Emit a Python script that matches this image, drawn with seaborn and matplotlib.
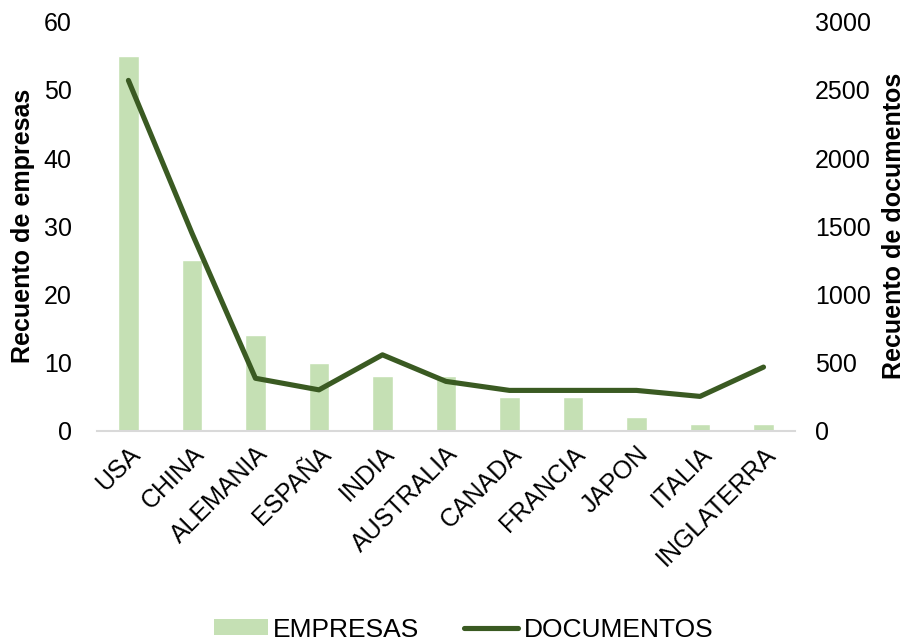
import numpy as np
import matplotlib
matplotlib.use("Agg")
import matplotlib.pyplot as plt
from matplotlib.patches import Patch
from matplotlib.lines import Line2D
import seaborn as sns

paises = ["USA", "CHINA", "ALEMANIA", "ESPAÑA", "INDIA", "AUSTRALIA",
          "CANADA", "FRANCIA", "JAPON", "ITALIA", "INGLATERRA"]
empresas = [55, 25, 14, 10, 8, 8, 5, 5, 2, 1, 1]
documentos = [2570, 1450, 385, 300, 557, 362, 296, 296, 296, 252, 467]

ticks_empresas = [0, 10, 20, 30, 40, 50, 60]
ticks_documentos = [0, 500, 1000, 1500, 2000, 2500, 3000]

color_barra = "#C5E0B4"
color_linea = "#3A5A22"

sns.set_theme(style="white")
plt.rcParams["font.family"] = ["Liberation Sans", "DejaVu Sans"]

fig, ax = plt.subplots(figsize=(9.12, 6.41), dpi=100)
fig.subplots_adjust(left=0.106, right=0.872, top=0.966, bottom=0.328)

sns.barplot(x=paises, y=empresas, color=color_barra, width=0.32,
            saturation=1, ax=ax)
ax.set_ylim(0, 60)
ax.set_xlim(-0.5, len(paises) - 0.5)
ax.set_yticks(ticks_empresas)
ax.set_yticklabels([str(t) for t in ticks_empresas], fontsize=18, color="#000000")
ax.set_xticks(range(len(paises)))
ax.set_xticklabels(paises, rotation=45, ha="right", rotation_mode="anchor",
                   fontsize=18, color="#000000")
ax.set_xlabel("")
ax.set_ylabel("Recuento de empresas", fontsize=18, fontweight="bold",
              color="#000000", labelpad=6)
ax.tick_params(axis="y", length=0, pad=18)
ax.tick_params(axis="x", length=0, pad=8)
for s in ["top", "right", "left"]:
    ax.spines[s].set_visible(False)
ax.spines["bottom"].set_color("#D9D9D9")
ax.spines["bottom"].set_linewidth(1.5)

ax2 = ax.twinx()
sns.lineplot(x=np.arange(len(paises)), y=documentos, color=color_linea,
             linewidth=3.7, ax=ax2, solid_capstyle="round",
             solid_joinstyle="round")
ax2.set_ylim(0, 3000)
ax2.set_yticks(ticks_documentos)
ax2.set_yticklabels([str(t) for t in ticks_documentos], fontsize=18, color="#000000")
ax2.set_ylabel("Recuento de documentos", fontsize=18, fontweight="bold",
               color="#000000", labelpad=8)
ax2.tick_params(axis="y", length=0, pad=14)
for s in ["top", "right", "left", "bottom"]:
    ax2.spines[s].set_visible(False)
ax2.set_xlim(-0.5, len(paises) - 0.5)

handles = [Patch(facecolor=color_barra, edgecolor="none"),
           Line2D([0], [0], color=color_linea, linewidth=3.7,
                  solid_capstyle="round")]
fig.legend(handles, ["EMPRESAS", "DOCUMENTOS"], loc="lower center",
           bbox_to_anchor=(0.508, -0.038), ncol=2, frameon=False, fontsize=19,
           handlelength=2.05, handleheight=0.55, handletextpad=0.2,
           columnspacing=1.7, labelcolor="#000000")

fig.savefig("out.png", dpi=100, facecolor="white")
